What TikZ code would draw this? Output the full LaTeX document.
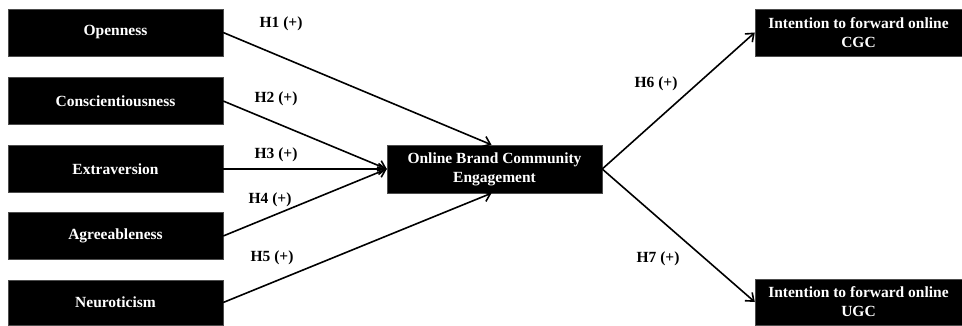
\documentclass[tikz,border=0pt]{standalone}
\usepackage{fontspec}
\setmainfont{Liberation Serif}
\usepackage{tikz}
\usetikzlibrary{arrows.meta,positioning}
\tikzstyle{box} = [rectangle, fill=black, draw=black!70, text=white, font=\bfseries\fontsize{15.5}{19}\selectfont, align=center, inner sep=0pt, minimum width=215pt, minimum height=47pt]
\tikzstyle{hyp} = [black, font=\bfseries\fontsize{15.5}{19}\selectfont, inner sep=0pt]
\tikzstyle{arr} = [-{Straight Barb[length=7pt,width=11pt]}, line width=1.6pt]

\begin{document}
\begin{tikzpicture}[x=1pt,y=-1pt]
		\useasboundingbox (0,0) rectangle (962,325);

		% personality traits
		\node[box] (open)  at (115.5,32.5) {Openness};
		\node[box] (consc) at (115.5,101)  {Conscientiousness};
		\node[box] (extra) at (115.5,169)  {Extraversion};
		\node[box] (agree) at (115.5,236)  {Agreeableness};
		\node[box, minimum height=45pt] (neuro) at (115.5,302.5) {Neuroticism};

		% mediator and outcomes
		\node[box, minimum height=48pt] (obce) at (494.5,169) {Online Brand Community\\Engagement};
		\node[box, minimum width=207pt] (cgc) at (858.5,32.5) {Intention to forward online\\CGC};
		\node[box, minimum width=207pt, minimum height=46pt] (ugc) at (858.5,302) {Intention to forward online\\UGC};

		\draw[arr] (open.east)  -- ([xshift=-3pt]obce.north);
		\draw[arr] (consc.east) -- (obce.west);
		\draw[arr] (extra.east) -- (obce.west);
		\draw[arr] (agree.east) -- (obce.west);
		\draw[arr] (neuro.east) -- ([xshift=-3pt]obce.south);
		\draw[arr] (obce.east)  -- (cgc.west);
		\draw[arr] (obce.east)  -- (ugc.west);

		\node[hyp] (h1) at (281,24)  {H1 (+)};
		\node[hyp] (h2) at (276,99)  {H2 (+)};
		\node[hyp] (h3) at (276,155) {H3 (+)};
		\node[hyp] (h4) at (270,200) {H4 (+)};
		\node[hyp] (h5) at (272,258) {H5 (+)};
		\node[hyp] (h6) at (656,84)  {H6 (+)};
		\node[hyp] (h7) at (658,259) {H7 (+)};
	\end{tikzpicture}
\end{document}
